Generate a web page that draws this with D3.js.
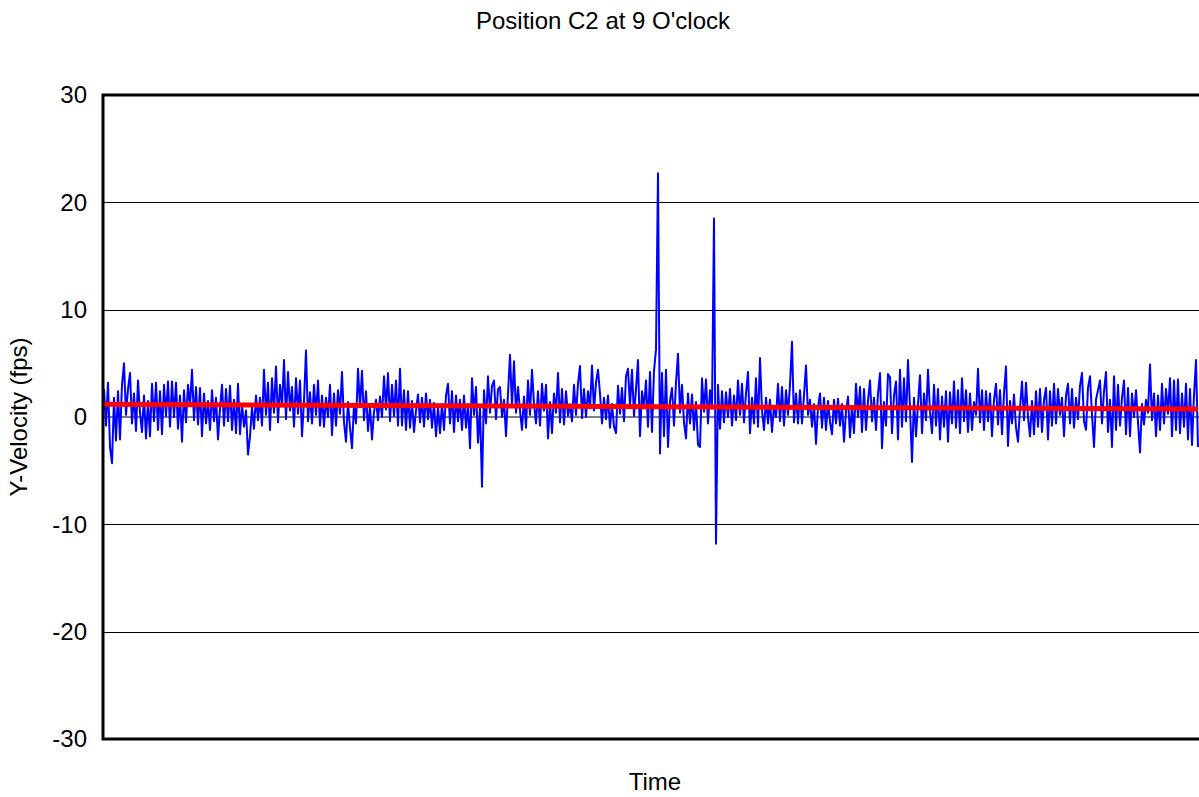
<!DOCTYPE html>
<html>
<head>
<meta charset="utf-8">
<script src="https://cdn.jsdelivr.net/npm/d3@7"></script>
<style>
  html, body { margin: 0; padding: 0; background: #ffffff; }
  svg { display: block; }
  text { font-family: "Liberation Sans", Arial, sans-serif; fill: #000; }
</style>
</head>
<body>
<svg id="chart" width="1199" height="797"></svg>
<script>
// Y-velocity samples (fps), in time order
const velocity = [
  // first block
  2.6, -0.8, 3.2, -2.8, -4.3, 1.8, -2.2, 2.4, -2.1, 3.0, 5.0, 0.2, 2.6, 4.1, -0.6, 2.2,
  -1.3, 3.4, 0.4, -1.4, 2.0, -2.0, 1.5, -1.8, 3.1, -0.4, 3.2, -1.2, 2.4, -1.6, 3.0, 0.1,
  3.3, -0.9, 3.3, 0.0, 3.2, -1.1, 2.0, -2.3, 2.5, -0.5, 3.0, 1.0, 4.4, -0.3, 2.8, -0.7,
  // second block
  2.7, -1.8, 2.2, -0.6, 1.5, -1.2, 2.5, -0.4, 1.8, -2.1, 0.8, 3.0, -0.8, 2.6, -0.4, 2.9,
  -1.2, 1.6, -1.5, 3.1, -1.6, 1.2, -0.9, 0.6, -3.5, -1.8, 0.9, -1.1, 2.0, -0.3, 1.8, -0.8,
  4.4, 0.2, 3.2, -1.2, 3.6, 0.4, 4.7, -0.5, 3.0, 1.0, 5.3, -0.2, 4.2, 0.6, 2.8, -0.9, 3.6, 0.3,
  // third block
  3.4, -1.8, 1.5, 6.2, -0.4, 2.3, -0.6, 3.0, 0.2, 3.4, -0.8, 2.0, -0.9, 1.8, 0.0, 3.0,
  -1.7, 2.2, -0.8, 2.5, 0.3, 4.2, -0.5, -2.3, 1.4, -1.0, -2.9, 1.2, -0.6, 4.5, 0.9, 4.3,
  -0.3, 2.4, -1.3, 1.0, -2.1, 0.5, 1.6, -0.3, 1.9, 0.0, 3.8, 0.7, 4.1, -0.4, 3.0, 0.1, 3.4, -0.8,
  // fourth block
  4.5, -0.8, 2.5, -1.2, 2.4, -1.0, 1.5, -1.4, 0.6, 2.1, -0.5, 1.8, -0.9, 2.2, -0.2, 1.6,
  -1.0, 1.3, -1.8, 0.9, -1.5, 1.2, -1.2, 2.0, 3.1, -0.6, 2.4, -1.4, 2.0, -0.4, 1.6, -1.2,
  2.0, -1.0, 1.2, -2.9, 3.6, 0.2, 2.8, -2.4, 0.8, -6.5, 2.5, -0.6, 3.8, 0.4, 2.9, 3.4, -0.2, 2.6,
  // fifth block
  2.8, 0.0, 1.6, -1.8, 2.2, 5.8, 1.0, 5.2, 0.4, 2.8, 0.6, -1.2, 1.9, -1.0, 3.4, 0.2,
  4.4, 1.2, -0.6, 2.4, -0.8, 3.1, 0.6, 3.0, -2.0, 1.4, -1.5, 2.2, 0.4, 4.1, -0.5, 2.6,
  -0.7, 2.4, 0.1, 1.2, -0.4, 3.0, 0.2, 3.1, 4.75, -0.1, 2.6, 0.0, 2.4, 0.8, 4.8, 0.6, 3.2, 4.4,
  // sixth block
  2.2, -0.6, 1.8, -0.2, 2.0, -1.0, 1.2, -0.9, -1.5, 2.9, 0.3, 2.7, -0.4, 3.8, 4.5, 1.0,
  4.4, 0.1, 2.6, 5.3, -1.8, 2.4, 0.8, 3.4, -0.9, 4.2, -1.4, 4.3, 6.3, 22.7, -3.4, 4.1,
  -1.8, 4.4, -2.8, 1.5, 2.7, -0.8, 3.2, 5.9, 0.4, 3.0, -0.5, -2.0, 2.2, -0.6, 2.1, -1.2, 1.4, -2.6,
  // seventh block
  -2.8, 3.6, 0.5, 3.5, -0.6, 2.5, 0.8, 18.5, -11.8, 3.0, -1.1, 2.4, -0.5, 2.3, 0.0, 2.6,
  -0.8, 2.0, -0.3, 3.4, 0.2, 3.1, -0.5, 2.2, 4.2, -1.5, 1.8, -0.6, 3.6, -0.9, 5.5, 0.6,
  -1.2, 1.8, -0.6, 1.6, -1.4, 1.0, 0.0, 3.1, -0.4, 2.8, -0.8, 2.5, 0.2, 3.0, 7.0, -0.5, 2.2, -0.6,
  // eighth block
  2.5, -0.6, 2.0, 4.8, 0.2, 1.6, -0.9, 1.2, -2.5, 0.9, 2.2, -1.0, 1.8, -1.2, 1.5, -0.5,
  -1.6, 1.6, -0.6, 1.7, -0.8, 1.2, -2.3, 0.5, 1.9, -1.9, 1.0, -1.5, 3.1, 0.0, 2.8, -1.4,
  2.6, -1.2, 1.5, 3.4, -0.4, 1.8, -1.2, 2.2, 4.1, -2.9, 1.4, -0.8, 4.0, 3.7, -1.5, 2.0, 3.3, -2.1,
  // ninth block
  4.4, -0.9, 3.6, -0.4, 5.3, 0.8, -4.2, 1.8, -1.8, 1.2, 3.9, -1.5, 2.2, -0.3, 4.4, 0.5,
  -1.5, 3.0, -0.8, 2.6, -2.1, 1.9, -0.9, 2.4, -2.3, 2.3, -0.6, 3.3, -1.0, 2.5, -1.5, 3.6,
  -0.4, 2.5, -1.4, 2.2, -1.2, 1.4, 0.2, 4.5, -0.5, 2.5, -1.2, 2.4, -0.4, 2.2, -1.8, 1.6, 3.1, -0.7,
  // tenth block
  2.5, -1.6, 2.2, 4.7, -2.7, 1.5, -0.6, 2.1, -1.0, -2.3, 0.8, 3.3, -0.3, 3.2, 0.0, -1.8,
  1.5, -1.6, 2.4, -0.9, 2.6, -1.4, 1.6, 2.7, -2.1, 2.4, -0.8, 3.1, -0.6, 2.6, 0.2, 1.8,
  -1.8, 2.0, 3.1, -0.6, 2.6, -1.0, 1.8, -0.2, 2.9, 4.1, -0.4, -1.2, 2.7, 3.8, 0.2, -2.8, 1.6, 2.5,
  // eleventh block
  3.4, -0.6, 2.4, 4.2, -1.4, 1.6, -2.8, 3.8, -1.2, 3.0, -0.8, 1.8, 3.4, -1.6, 2.7, -1.8,
  2.2, 0.0, 2.5, -0.5, -3.3, 1.2, -0.7, 1.6, 0.4, 4.9, -0.3, 2.2, -1.8, 2.0, -1.2, 3.1,
  -0.6, 2.6, 0.3, 3.6, -1.8, 3.4, -1.2, 3.5, -1.5, 2.2, -0.9, 3.1, -2.1, 2.6, -2.6, 2.0, 5.3, -2.8
];

// Linear trend line: value at the first and last sample
const trendValues = [1.18, 0.74];

// Y axis ticks and grid
const yTicks = [-30, -20, -10, 0, 10, 20, 30];
const gridTicks = [-20, -10, 10, 20];

const titleText = "Position C2 at 9 O'clock";
const yLabel = "Y-Velocity (fps)";
const xLabel = "Time";

// Layout
const plot = { left: 104, right: 1206, top: 95, bottom: 739 };
const dataRight = 1198;

const svg = d3.select("#chart");

const x = d3.scaleLinear()
  .domain([0, velocity.length - 1])
  .range([plot.left, dataRight]);

const y = d3.scaleLinear()
  .domain([-30, 30])
  .range([plot.bottom, plot.top]);

// Horizontal grid lines
svg.append("g")
  .selectAll("line")
  .data(gridTicks)
  .join("line")
  .attr("x1", plot.left)
  .attr("x2", plot.right)
  .attr("y1", d => Math.round(y(d)) + 0.5)
  .attr("y2", d => Math.round(y(d)) + 0.5)
  .attr("stroke", "#000")
  .attr("stroke-width", 1);

// Zero line
svg.append("line")
  .attr("x1", plot.left)
  .attr("x2", plot.right)
  .attr("y1", y(0))
  .attr("y2", y(0))
  .attr("stroke", "#808080")
  .attr("stroke-width", 2);

// Velocity trace
const line = d3.line()
  .x((d, i) => x(i))
  .y(d => y(d));

svg.append("path")
  .datum(velocity)
  .attr("fill", "none")
  .attr("stroke", "#0000ff")
  .attr("stroke-width", 2)
  .attr("stroke-linejoin", "round")
  .attr("d", line);

// Trend line
svg.append("path")
  .datum(trendValues)
  .attr("fill", "none")
  .attr("stroke", "#ff0000")
  .attr("stroke-width", 5)
  .attr("d", d3.line()
    .x((d, i) => x(i * (velocity.length - 1)))
    .y(d => y(d)));

// Plot frame
svg.append("rect")
  .attr("x", plot.left - 1)
  .attr("y", plot.top)
  .attr("width", plot.right - plot.left + 10)
  .attr("height", plot.bottom - plot.top)
  .attr("fill", "none")
  .attr("stroke", "#000")
  .attr("stroke-width", 3);

// Y axis labels (plain hyphen for negatives)
const yAxis = d3.axisLeft(y)
  .tickValues(yTicks)
  .tickSize(0)
  .tickPadding(16)
  .tickFormat(d => String(d));

const gy = svg.append("g")
  .attr("transform", `translate(${plot.left - 1},0)`)
  .call(yAxis);
gy.select(".domain").remove();
gy.selectAll("text")
  .style("font-family", "'Liberation Sans', Arial, sans-serif")
  .style("font-size", "24px")
  .attr("fill", "#000");

// Title
svg.append("text")
  .attr("x", 603)
  .attr("y", 29)
  .attr("text-anchor", "middle")
  .style("font-size", "24px")
  .text(titleText);

// X axis title
svg.append("text")
  .attr("x", 655)
  .attr("y", 790)
  .attr("text-anchor", "middle")
  .style("font-size", "24px")
  .text(xLabel);

// Y axis title
svg.append("text")
  .attr("transform", `translate(27,${(plot.top + plot.bottom) / 2}) rotate(-90)`)
  .attr("text-anchor", "middle")
  .style("font-size", "24px")
  .text(yLabel);
</script>
</body>
</html>
